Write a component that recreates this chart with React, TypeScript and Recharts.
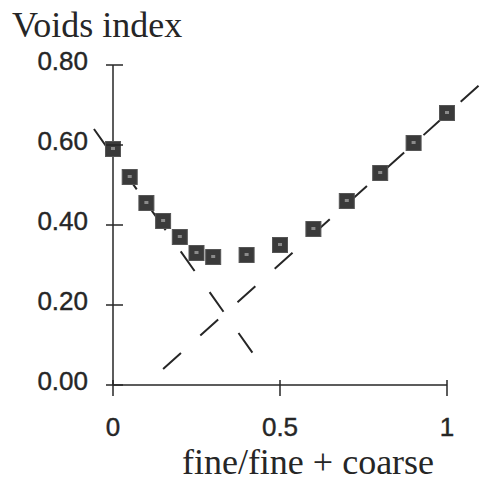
import { ScatterChart, Scatter, XAxis, YAxis, ReferenceLine } from "recharts";

const ratio = [0, 0.05, 0.1, 0.15, 0.2, 0.25, 0.3, 0.4, 0.5, 0.6, 0.7, 0.8, 0.9, 1.0];
const voids = [0.59, 0.52, 0.455, 0.41, 0.37, 0.33, 0.32, 0.325, 0.35, 0.39, 0.46, 0.53, 0.605, 0.68];

// dashed trend lines (endpoints in data units)
const coarseLine = [{ x: -0.057, y: 0.64 }, { x: 0.42, y: 0.078 }];
const fineLine = [{ x: 0.15, y: 0.04 }, { x: 1.11, y: 0.76 }];

const xTicks = [0, 0.5, 1];
const yTicks = [0, 0.2, 0.4, 0.6, 0.8];
const xTickLabels = ["0", "0.5", "1"];
const yTickLabels = ["0.00", "0.20", "0.40", "0.60", "0.80"];

const data = ratio.map((r, i) => ({ r, v: voids[i] }));

const ink = "#262626";
const sans = "'Liberation Sans', Arial, sans-serif";
const serif = "'Liberation Serif', 'Times New Roman', serif";

function YTick(props: any) {
  const { y, payload } = props;
  const x = 113;
  const i = yTicks.indexOf(payload.value);
  return (
    <g>
      <line x1={x - 7} x2={x + 10} y1={y} y2={y} stroke={ink} strokeWidth={1.5} />
      <text x={x - 25} y={y - 2} textAnchor="end" dominantBaseline="middle" fontSize={26} fontFamily={sans} fill={ink} stroke={ink} strokeWidth={0.4}>
        {yTickLabels[i]}
      </text>
    </g>
  );
}

function XTick(props: any) {
  const { x, payload } = props;
  const y = 385;
  const i = xTicks.indexOf(payload.value);
  return (
    <g>
      <line x1={x} x2={x} y1={y - 5} y2={y + 11} stroke={ink} strokeWidth={1.5} />
      <text x={x} y={y + 51} textAnchor="middle" fontSize={26} fontFamily={sans} fill={ink} stroke={ink} strokeWidth={0.4}>
        {xTickLabels[i]}
      </text>
    </g>
  );
}

function Marker(props: any) {
  const { cx, cy } = props;
  const s = 15;
  return (
    <g>
      <rect x={cx - s / 2} y={cy - s / 2} width={s} height={s} fill="#3a3a3a" stroke="#555" strokeWidth={1} />
      <rect x={cx - 2} y={cy - 2} width={4} height={3} fill="#8a8a8a" />
    </g>
  );
}

export default function App() {
  return (
    <div style={{ position: "absolute", left: 0, top: 0, width: 485, height: 484, background: "#fff" }}>
      <ScatterChart width={485} height={484} margin={{ top: 65, right: 38, bottom: 39, left: 53 }}>
        <XAxis
          type="number"
          dataKey="r"
          domain={[0, 1]}
          ticks={xTicks}
          height={60}
          tickSize={0}
          tickMargin={0}
          tickLine={false}
          tick={<XTick />}
          axisLine={{ stroke: ink, strokeWidth: 1.5 }}
        />
        <YAxis
          type="number"
          dataKey="v"
          domain={[0, 0.8]}
          ticks={yTicks}
          width={60}
          tickSize={0}
          tickMargin={0}
          tickLine={false}
          tick={<YTick />}
          axisLine={{ stroke: ink, strokeWidth: 1.5 }}
        />
        <ReferenceLine
          segment={coarseLine}
          ifOverflow="visible"
          stroke={ink}
          strokeWidth={2}
          strokeDasharray="24 26"
        />
        <ReferenceLine
          segment={fineLine}
          ifOverflow="visible"
          stroke={ink}
          strokeWidth={2}
          strokeDasharray="24 26"
        />
        <Scatter data={data} shape={<Marker />} isAnimationActive={false} />
      </ScatterChart>
      <div style={{ position: "absolute", left: 12, top: 7, fontFamily: serif, fontSize: 36, color: ink, lineHeight: 1 }}>
        Voids index
      </div>
      <div style={{ position: "absolute", left: 0, width: 616, top: 444, textAlign: "center", fontFamily: serif, fontSize: 36, color: ink, lineHeight: 1 }}>
        fine/fine + coarse
      </div>
    </div>
  );
}
